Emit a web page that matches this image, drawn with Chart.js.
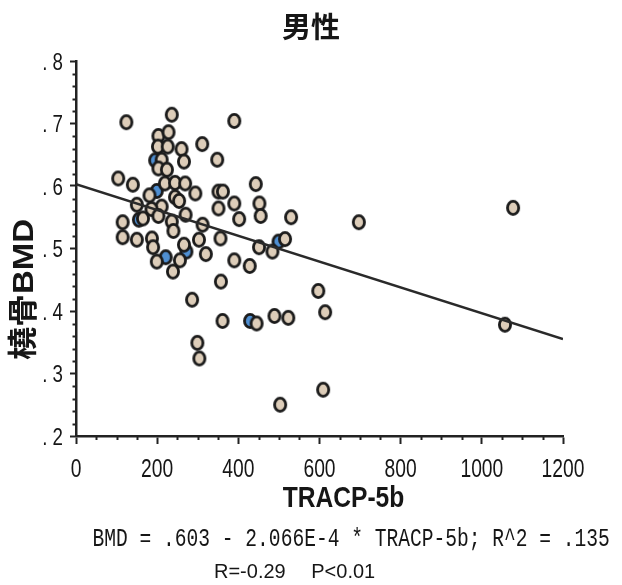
<!DOCTYPE html>
<html>
<head>
<meta charset="utf-8">
<script src="https://cdn.jsdelivr.net/npm/chart.js@4/dist/chart.umd.min.js"></script>
<style>
  html, body { margin: 0; padding: 0; background: #fff; }
  #wrap { width: 622px; height: 585px; }
</style>
</head>
<body>
<div id="wrap"><canvas id="c" width="622" height="585"></canvas></div>
<script>
// TRACP-5b (x) and radius BMD (y), main group
const tracpMain = [
  124, 236, 390, 203, 228, 202, 226, 260, 311, 348,
  266, 211, 203, 224, 104, 140, 219, 244, 269, 443,
  294, 351, 362, 181, 244, 254, 150, 211, 186, 351,
  390, 452, 203, 270, 455, 402, 530, 697, 1077, 165,
  115, 236, 312, 240, 115, 150, 187, 190, 266, 303,
  356, 320, 451, 484, 515, 199, 256, 390, 428, 239,
  357, 286, 597, 614, 361, 445, 489, 523, 299, 304,
  609, 503, 1057
];
const bmdMain = [
  0.702, 0.714, 0.704, 0.680, 0.686, 0.663, 0.663, 0.659, 0.667, 0.642,
  0.639, 0.642, 0.628, 0.626, 0.612, 0.602, 0.604, 0.605, 0.604, 0.603,
  0.588, 0.591, 0.591, 0.585, 0.582, 0.576, 0.570, 0.567, 0.563, 0.564,
  0.572, 0.572, 0.552, 0.554, 0.552, 0.547, 0.550, 0.542, 0.565, 0.548,
  0.542, 0.543, 0.538, 0.528, 0.518, 0.514, 0.516, 0.502, 0.506, 0.514,
  0.516, 0.491, 0.502, 0.495, 0.515, 0.479, 0.481, 0.481, 0.472, 0.463,
  0.447, 0.418, 0.432, 0.398, 0.384, 0.380, 0.392, 0.389, 0.349, 0.324,
  0.274, 0.250, 0.378
];
// second group (blue markers)
const tracpSecond = [195, 199, 155, 221, 272, 499, 429];
const bmdSecond = [0.641, 0.592, 0.546, 0.486, 0.495, 0.511, 0.384];

// linear fit: BMD = .603 - 2.066E-4 * TRACP-5b
const fitIntercept = 0.603;
const fitSlope = -2.066e-4;
const fitRange = [0, 1200];

// axis ranges and tick steps
const xRange = [0, 1200];
const yRange = [0.2, 0.8];
const xMajorStep = 200, xMinorStep = 50;
const yMajorStep = 0.1, yMinorStep = 0.02;

const titleText = '男性';
const xTitle = 'TRACP-5b';
const yTitle = '橈骨BMD';
const equationText = 'BMD = .603 - 2.066E-4 * TRACP-5b; R^2 = .135';
const statsText = 'R=-0.29\u3000 P<0.01';

const xTickLabel = v => String(Math.round(v));
const yTickLabel = v => '. ' + Math.round(v * 10);

const INK = '#161616';
const AXIS = '#222';
const SANS = '"Liberation Sans", Arial, sans-serif';
// condensed look for axis text (Liberation Sans squeezed horizontally)
const NARROW_SQUEEZE = 0.78;

function ovalMarker(fill) {
  const c = document.createElement('canvas');
  c.width = 16; c.height = 18;
  const g = c.getContext('2d');
  g.beginPath();
  g.ellipse(8, 9, 5.6, 6.6, 0, 0, Math.PI * 2);
  g.fillStyle = fill;
  g.fill();
  g.lineWidth = 2.8;
  g.strokeStyle = '#1b1b1b';
  g.stroke();
  return c;
}

const toPoints = (xs, ys) => xs.map((x, i) => ({ x, y: ys[i] }));
const fitPoints = fitRange.map(x => ({ x, y: fitIntercept + fitSlope * x }));

// small minor tick marks between the labelled ticks
const minorTicks = {
  id: 'minorTicks',
  afterDraw(chart) {
    const { ctx, scales: { x, y } } = chart;
    ctx.save();
    ctx.strokeStyle = AXIS;
    ctx.lineWidth = 2;
    const nx = Math.round((x.max - x.min) / xMinorStep);
    for (let i = 0; i <= nx; i++) {
      const v = x.min + i * xMinorStep;
      if (Math.abs(v / xMajorStep - Math.round(v / xMajorStep)) < 1e-6) continue;
      const px = Math.round(x.getPixelForValue(v)) + 0.5;
      ctx.beginPath();
      ctx.moveTo(px, x.top);
      ctx.lineTo(px, x.top + 4);
      ctx.stroke();
    }
    const ny = Math.round((y.max - y.min) / yMinorStep);
    for (let i = 0; i <= ny; i++) {
      const v = y.min + i * yMinorStep;
      if (Math.abs(v / yMajorStep - Math.round(v / yMajorStep)) < 1e-6) continue;
      const py = Math.round(y.getPixelForValue(v)) + 0.5;
      ctx.beginPath();
      ctx.moveTo(y.right, py);
      ctx.lineTo(y.right - 3.5, py);
      ctx.stroke();
    }
    ctx.restore();
  }
};

function squeezedText(ctx, text, x, y, sx, sy, align) {
  ctx.save();
  ctx.translate(x, y);
  ctx.scale(sx, sy);
  ctx.textAlign = align;
  ctx.textBaseline = 'alphabetic';
  ctx.fillText(text, 0, 0);
  ctx.restore();
}

// title, tick labels and axis titles, placed from the scales
const axisText = {
  id: 'axisText',
  afterDraw(chart) {
    const { ctx, chartArea, scales: { x, y } } = chart;
    ctx.save();
    ctx.fillStyle = INK;

    ctx.font = 'bold 29px "Noto Sans CJK JP", sans-serif';
    ctx.textAlign = 'center';
    ctx.textBaseline = 'middle';
    ctx.fillText(titleText, chart.width / 2, 27);

    ctx.font = '26px ' + SANS;
    for (const t of x.ticks) {
      squeezedText(ctx, xTickLabel(t.value), x.getPixelForValue(t.value), x.top + 41, 0.74, 1, 'center');
    }

    ctx.font = '24px ' + SANS;
    for (const t of y.ticks) {
      squeezedText(ctx, yTickLabel(t.value), y.right - 13, y.getPixelForValue(t.value) + 8.6, NARROW_SQUEEZE, 1, 'right');
    }

    ctx.font = 'bold 30px ' + SANS;
    squeezedText(ctx, xTitle, (chartArea.left + chartArea.right) / 2 + 24, x.top + 71, 0.82, 1, 'center');

    ctx.save();
    ctx.translate(25, (chartArea.top + chartArea.bottom) / 2 + 41);
    ctx.rotate(-Math.PI / 2);
    ctx.scale(1.1, 1);
    ctx.font = 'bold 30px ' + SANS + ', "Noto Sans CJK JP"';
    ctx.textAlign = 'center';
    ctx.textBaseline = 'middle';
    ctx.fillText(yTitle, 0, 0);
    ctx.restore();

    ctx.restore();
  }
};

// fit summary lines under the chart
const captions = {
  id: 'captions',
  afterDraw(chart) {
    const { ctx } = chart;
    ctx.save();
    ctx.fillStyle = INK;
    ctx.font = '19.6px "Liberation Mono", "DejaVu Sans Mono", monospace';
    squeezedText(ctx, equationText, 92.5, 546, 1, 1.3, 'left');
    ctx.font = '20px ' + SANS + ', "Noto Sans CJK JP"';
    squeezedText(ctx, statsText, 214, 578, 1, 1.05, 'left');
    ctx.restore();
  }
};

new Chart(document.getElementById('c'), {
  type: 'scatter',
  data: {
    datasets: [
      {
        type: 'line',
        data: fitPoints,
        borderColor: '#2a2a2a',
        borderWidth: 2.5,
        pointRadius: 0,
        fill: false,
        order: 0
      },
      {
        data: toPoints(tracpMain, bmdMain),
        pointStyle: ovalMarker('#ddcdb9'),
        pointRadius: 7,
        order: 1
      },
      {
        data: toPoints(tracpSecond, bmdSecond),
        pointStyle: ovalMarker('#4f8fd2'),
        pointRadius: 7,
        order: 2
      }
    ]
  },
  options: {
    responsive: false,
    animation: false,
    devicePixelRatio: 1,
    layout: { padding: { left: 0, right: 59, top: 61, bottom: 67 } },
    plugins: {
      legend: { display: false },
      tooltip: { enabled: false },
      title: { display: false, text: titleText }
    },
    scales: {
      x: {
        type: 'linear',
        min: xRange[0],
        max: xRange[1],
        afterFit: s => { s.height = 82; },
        border: { display: true, color: AXIS, width: 2.5 },
        grid: { drawOnChartArea: false, drawTicks: true, tickLength: 8, tickColor: AXIS, tickWidth: 2 },
        ticks: { stepSize: xMajorStep, display: false, callback: xTickLabel },
        title: { display: false, text: xTitle }
      },
      y: {
        type: 'linear',
        min: yRange[0],
        max: yRange[1],
        afterFit: s => { s.width = 76; },
        border: { display: true, color: AXIS, width: 2.5 },
        grid: { drawOnChartArea: false, drawTicks: true, tickLength: 6, tickColor: AXIS, tickWidth: 2 },
        ticks: { stepSize: yMajorStep, display: false, callback: yTickLabel }
      }
    }
  },
  plugins: [minorTicks, axisText, captions]
});
</script>
</body>
</html>
